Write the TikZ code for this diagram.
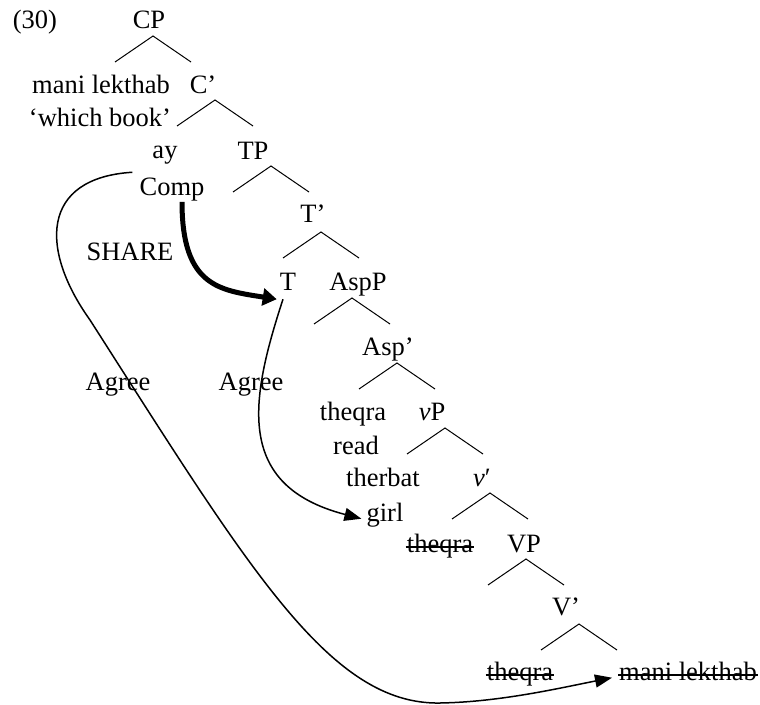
\documentclass[tikz,border=0pt]{standalone}
\usepackage{fontspec}
\setmainfont{Liberation Serif}
\usetikzlibrary{arrows.meta}

\begin{document}
\begin{tikzpicture}[x=1pt, y=-1pt, font=\fontsize{26.5}{32}\selectfont,
    every node/.style={inner sep=1pt, anchor=base},
    branch/.style={line width=1pt},
    strike/.style={line width=1.3pt},
    agree/.style={line width=1.5pt, -{Triangle[length=17pt,width=13pt]}},
    share/.style={line width=5pt, -{Triangle[length=14pt,width=17pt]}}]
    \useasboundingbox (0,0) rectangle (760,704);
    % tree labels
    \node (num) at (35,28) {(30)};
    \node (cp) at (149,28) {CP};
    \node (mani) at (101,93) {mani lekthab};
    \node (cbar) at (203,93) {C’};
    \node (gloss) at (100,126) {‘which book’};
    \node (ay) at (165,158) {ay};
    \node (tp) at (253,159) {TP};
    \node (comp) at (172,195) {Comp};
    \node (tbar) at (313,222) {T’};
    \node (share) at (130,260) {SHARE};
    \node (t) at (288,290) {T};
    \node (aspp) at (358,290) {AspP};
    \node (aspbar) at (388,355) {Asp’};
    \node (agreeA) at (118,390) {Agree};
    \node (agreeB) at (251,390) {Agree};
    \node (theqraA) at (353,420) {theqra};
    \node (vp) at (432,420) {\textit{v}P};
    \node (read) at (356,454) {read};
    \node (therbat) at (383,486) {therbat};
    \node (vbar) at (482,486) {\textit{v}′};
    \node (girl) at (385,521) {girl};
    \node (theqraB) at (440,552) {theqra};
    \node (bigvp) at (524,552) {VP};
    \node (bigvbar) at (566,615) {V’};
    \node (theqraC) at (520,680) {theqra};
    \node (maniC) at (688,680) {mani lekthab};
    % struck copies
    \foreach \n in {theqraB, theqraC, maniC}
        \draw[strike] ([yshift=5pt]\n.base west) -- ([yshift=5pt]\n.base east);
    % branches
    \foreach \px/\py in {153/36, 215/100, 271/166, 321/232, 352/298,
                         397/363, 445/428, 490/493, 526/559, 579/624}
        \draw[branch] (\px-38,\py+26) -- (\px,\py) -- (\px+38,\py+26);
    % arrows
    \draw[share] ([xshift=10pt]comp.south) .. controls +(0,85) and +(-57,-9)
        .. ([xshift=-2pt,yshift=-8pt]t.south west);
    \draw[agree] ([xshift=-5pt,yshift=-8pt]t.south) .. controls +(-33,101) and +(-127,-33)
        .. ([xshift=-4pt]girl.mid west);
    \draw[agree] ([xshift=-6pt,yshift=4pt]comp.north west)
        .. controls (40,178) and (40,250) .. (90,320)
        .. controls (250,570) and (330,705) .. (440,703)
        .. controls (500,702) and (560,688) .. ([xshift=-6pt]maniC.mid west);
\end{tikzpicture}
\end{document}
